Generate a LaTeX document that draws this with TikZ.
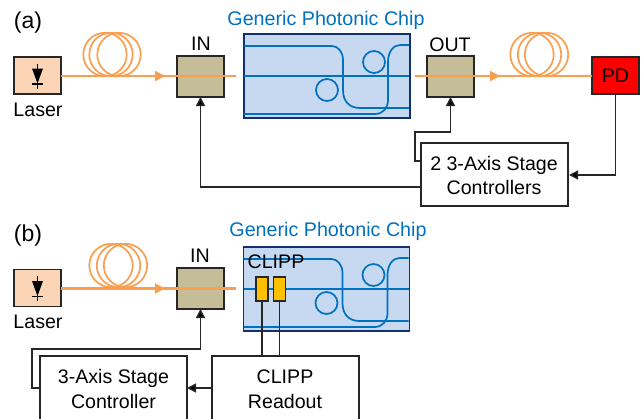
\documentclass[tikz,border=0pt]{standalone}
\usepackage{fontspec}
\setmainfont{Liberation Sans}
\usetikzlibrary{arrows.meta}
\definecolor{fiberc}{HTML}{FA9E50}
\definecolor{laserc}{HTML}{FBD5B5}
\definecolor{stagec}{HTML}{C4BD97}
\definecolor{chipc}{HTML}{C6D9F1}
\definecolor{chipb}{HTML}{10306E}
\definecolor{guide}{HTML}{0070C0}
\definecolor{clippc}{HTML}{FFC000}
\definecolor{ink}{HTML}{262626}
\tikzset{
  x=1pt,y=-1pt,
  lbl/.style={font=\fontsize{19.6}{19.6}\selectfont,anchor=base,inner sep=0pt,text=black},
  sub/.style={font=\fontsize{23}{23}\selectfont,anchor=base,inner sep=0pt,text=black},
  chiplbl/.style={font=\fontsize{19.7}{19.7}\selectfont,anchor=base,inner sep=0pt,text=guide},
  boxn/.style={draw=ink,line width=1.4pt,inner sep=0pt,outer sep=0pt,minimum width=#1},
  lasern/.style={boxn=47,minimum height=37,fill=laserc},
  stagen/.style={boxn=47,minimum height=41,fill=stagec},
  ctrl/.style={boxn=147,minimum height=63,fill=white},
  chipn/.style={draw=chipb,line width=1.8pt,fill=chipc,inner sep=0pt,outer sep=0pt,minimum width=166,minimum height=84},
  clippn/.style={boxn=12,minimum height=24,fill=clippc,line width=1.6pt},
  fiber/.style={draw=fiberc,line width=2.1pt},
  coil/.style={draw=fiberc,line width=1.7pt},
  ctl/.style={draw=ink,line width=1.4pt},
  ctlarrow/.style={ctl,-{Triangle[length=9pt,width=9pt,fill=black]}},
  fiberarrow/.style={fiber,-{Triangle[length=10pt,width=10pt,fill=fiberc]}},
  wg/.style={draw=guide,line width=1.7pt},
  guts/.pic={
    \draw[wg] (0,12) -- (88,12) .. controls (94,12) and (99,18) .. (99,26) -- (99,56) .. controls (99,68) and (106,74) .. (116,74) -- (165,74);
    \draw[wg] (0,42) -- (165,42);
    \draw[wg] (0,80) -- (131,80) .. controls (139,80) and (144,74) .. (144,66) -- (144,28) .. controls (144,17) and (150,11) .. (156,11) -- (165,11);
    \draw[wg] (83,56) circle[radius=11];
    \draw[wg] (130,28) circle[radius=11];
  },
  diode/.pic={
    \draw[line width=1.3pt,black] (0,-12) -- (0,13);
    \fill[black] (-5.5,-7) -- (5.5,-7) -- (0,8) -- cycle;
    \draw[line width=1.3pt,black] (-5.5,8.5) -- (5.5,8.5);
  }
}
\begin{document}
\begin{tikzpicture}
\useasboundingbox (0,0) rectangle (644,418);
\clip (0,0) rectangle (644,418);
% coils
\foreach \c in {105,111,119}{\draw[coil] (\c,54.5) circle[radius=21.7];}
\foreach \c in {532,539.5,546.5}{\draw[coil] (\c,54.5) circle[radius=21.7];}
\foreach \c in {111,118.5,125.5}{\draw[coil] (\c,265.5) circle[radius=21.7];}
% (a)
\node[sub] (suba) at (28,28) {(a)};
\node[lasern] (lasera) at (37.5,75.5) {};
\pic at (lasera.center) {diode};
\node[lbl] (lasertxta) at (38,116) {Laser};
\node[stagen] (ina) at (200.5,76.5) {};
\node[lbl] (intxta) at (201,50) {IN};
\node[chipn] (chipa) at (327,76) {};
\pic at (chipa.north west) {guts};
\node[chiplbl] (chiptxta) at (326,25) {Generic Photonic Chip};
\node[stagen] (outa) at (450.5,76.5) {};
\node[lbl] (outtxta) at (450,51) {OUT};
\node[boxn=47,minimum height=37,fill=red,font=\fontsize{19.6}{19.6}\selectfont] (pda) at (615.5,75.5) {PD};
\node[ctrl] (ctla) at (494.5,174.5) {};
\node[lbl] (ctlaone) at (494,170) {2 3-Axis Stage};
\node[lbl] (ctlatwo) at (494,194) {Controllers};
\coordinate (fa1) at (165,76);
\coordinate (fa2) at (236,76);
\coordinate (fa3) at (415,76);
\coordinate (fa4) at (500,76);
\draw[fiber] (lasera.east |- fa1) -- (fa2);
\draw[fiberarrow] (lasera.east |- fa1) -- (fa1);
\draw[fiber] (fa3) -- (pda.west |- fa3);
\draw[fiberarrow] (fa3) -- (fa4);
\coordinate (ca1) at (421,187);
\coordinate (ca2) at (421,161);
\coordinate (ca3) at (415,132);
\coordinate (ca4) at (569,175);
\draw[ctlarrow] (ctla.west |- ca1) -| (ina.south);
\draw[ctlarrow] (ctla.west |- ca2) -- (ca3 |- ca2) -- (ca3) -| (outa.south);
\draw[ctlarrow] (pda.south) |- (ca4);
% (b)
\node[sub] (subb) at (28,241) {(b)};
\node[lasern] (laserb) at (37.5,288) {};
\pic at (laserb.center) {diode};
\node[lbl] (lasertxtb) at (38,328) {Laser};
\node[stagen] (inb) at (200.5,288.5) {};
\node[lbl] (intxtb) at (200,262) {IN};
\node[chipn] (chipb) at (326.5,289) {};
\pic at (chipb.north west) {guts};
\node[chiplbl] (chiptxtb) at (328,236) {Generic Photonic Chip};
\node[clippn] (cl1) at (262,289) {};
\node[clippn] (cl2) at (279.5,289) {};
\node[lbl] (clipptxt) at (276,268) {CLIPP};
\node[ctrl,minimum height=80] (ctlb) at (113.5,396) {};
\node[lbl] (ctlbone) at (113.5,383) {3-Axis Stage};
\node[lbl] (ctlbtwo) at (113.5,408) {Controller};
\node[ctrl,minimum height=80] (read) at (285.5,396) {};
\node[lbl] (readone) at (285,383) {CLIPP};
\node[lbl] (readtwo) at (285,408) {Readout};
\coordinate (fb1) at (165,288.5);
\coordinate (fb2) at (236,288.5);
\draw[fiber] (laserb.east |- fb1) -- (fb2);
\draw[fiberarrow] (laserb.east |- fb1) -- (fb1);
\coordinate (cb1) at (40,388);
\coordinate (cb2) at (32,349);
\draw[ctlarrow] (ctlb.west |- cb1) -- (cb2 |- cb1) -- (cb2) -| (inb.south);
\draw[ctlarrow] (read.west |- cb1) -- (ctlb.east |- cb1);
\draw[ctl] (cl1.south) -- (cl1.south |- read.north);
\draw[ctl] (cl2.south) -- (cl2.south |- read.north);
\end{tikzpicture}
\end{document}
